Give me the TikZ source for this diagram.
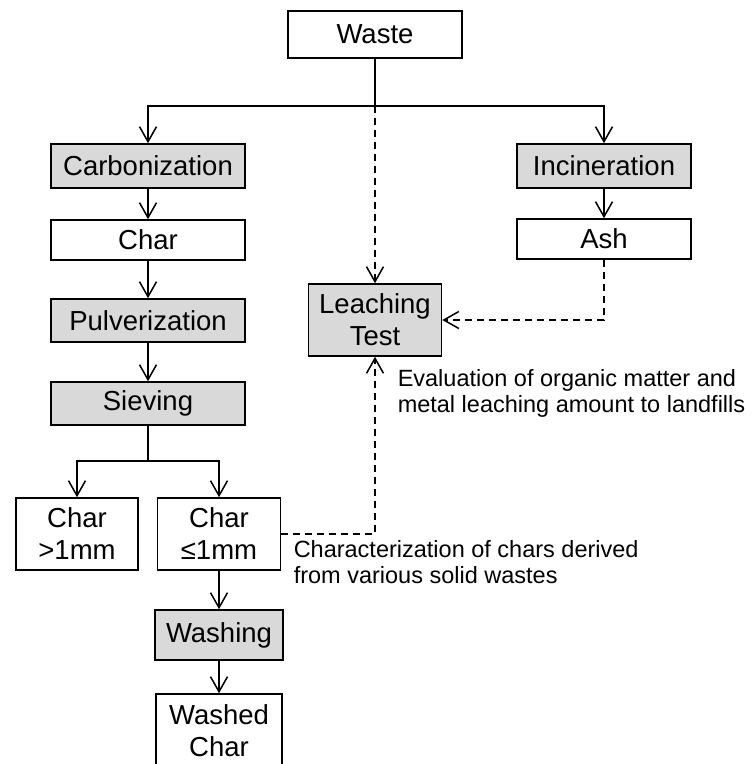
\documentclass[tikz,border=0pt]{standalone}
\usepackage{fontspec}
\setmainfont{Liberation Sans}
\usetikzlibrary{arrows.meta}
\definecolor{procgray}{RGB}{217,217,217}
\tikzset{
  box/.style={draw, line width=1.6pt, inner sep=0pt, align=center,
    font=\fontsize{27.5}{32}\selectfont},
  procbox/.style={box, fill=procgray},
  itembox/.style={box, fill=white},
  note/.style={inner sep=0pt, align=left, font=\fontsize{23.5}{26}\selectfont},
  dashcon/.style={dash pattern=on 7pt off 5pt},
}
\begin{document}
\begin{tikzpicture}[x=1pt, y=-1pt, line width=1.5pt, >={Straight Barb[length=15pt,width=17pt]}]
\useasboundingbox (0,0) rectangle (752,764);
% main column
\node[itembox, minimum width=174pt, minimum height=47pt] (waste) at (375,34.5) {Waste};
\node[procbox, minimum width=194pt, minimum height=44pt] (carb) at (148,166) {Carbonization};
\node[itembox, minimum width=194pt, minimum height=40pt] (char) at (148,240) {Char};
\node[procbox, minimum width=194pt, minimum height=43pt] (pulv) at (148,320.5) {Pulverization};
\node[procbox, minimum width=194pt, minimum height=43pt] (siev) at (148,403.5) {Sieving};
\node[itembox, minimum width=122pt, minimum height=72pt] (coarse) at (77,534) {Char\\>1mm};
\node[itembox, minimum width=123pt, minimum height=72pt] (fine) at (219,534) {Char\\≤1mm};
\node[procbox, minimum width=128pt, minimum height=50pt] (wash) at (219,635) {Washing};
\node[itembox, minimum width=126pt, minimum height=73pt] (washed) at (219,730.5) {Washed\\Char};
% right column
\node[procbox, minimum width=174pt, minimum height=44pt] (inc) at (604,166) {Incineration};
\node[itembox, minimum width=174pt, minimum height=40pt] (ash) at (604,239) {Ash};
\node[procbox, minimum width=133pt, minimum height=72pt] (leach) at (375,320) {Leaching\\Test};
% notes (base = last line)
\node[note, anchor=base west] (evalnote) at (397,412)
  {Evaluation of organic matter and\\metal leaching amount to landfills};
\node[note, anchor=base west] (charnote) at (293,583)
  {Characterization of chars derived\\from various solid wastes};
% junctions
\coordinate (split) at (375,106);
\coordinate (sieve split) at (148,461);
% connectors
\draw (waste) -- (split);
\draw[->] (split) -| (carb);
\draw[->] (split) -| (inc);
\draw[->, dashcon] (split) -- (leach);
\draw[->] (carb) -- (char);
\draw[->] (char) -- (pulv);
\draw[->] (pulv) -- (siev);
\draw (siev) -- (sieve split);
\draw[->] (sieve split) -| (coarse);
\draw[->] (sieve split) -| (fine);
\draw[->] (fine) -- (wash);
\draw[->] (wash) -- (washed);
\draw[->] (inc) -- (ash);
\draw[->, dashcon] (ash) |- (leach);
\draw[->, dashcon] (fine) -| (leach);
\end{tikzpicture}
\end{document}
